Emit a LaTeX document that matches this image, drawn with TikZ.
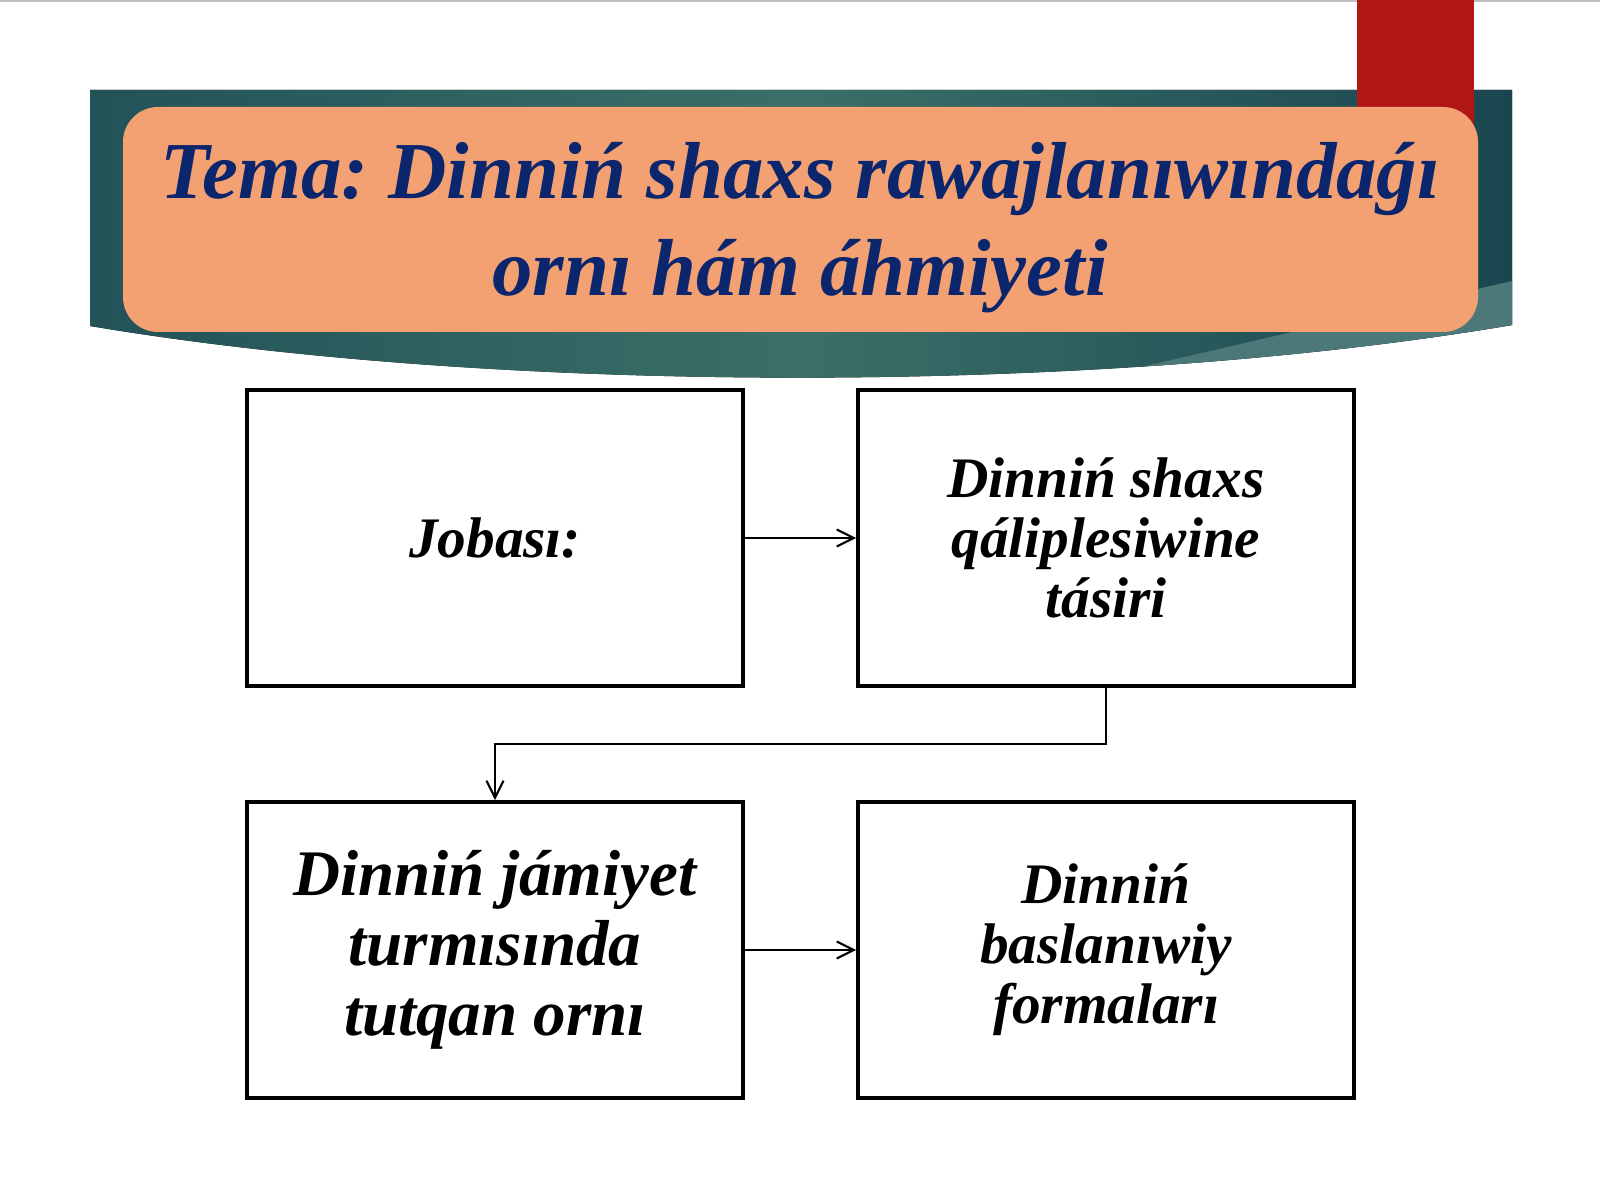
\documentclass[tikz,border=0pt]{standalone}
\usepackage{fontspec}
\setmainfont{Liberation Serif}
\usetikzlibrary{arrows.meta}
\frenchspacing

\definecolor{bannerleft}{RGB}{35,82,88}
\definecolor{bannermid}{RGB}{58,112,104}
\definecolor{bannerdark}{RGB}{27,70,80}
\definecolor{bannerfold}{RGB}{77,120,122}
\definecolor{ribbonred}{RGB}{176,22,20}
\definecolor{titlefill}{RGB}{243,161,114}
\definecolor{titleblue}{RGB}{12,38,110}

\tikzset{
  box/.style={draw, line width=1.1pt, minimum width=49.6mm, minimum height=29.6mm,
    inner sep=0pt, align=center, font=\fontsize{16.3}{17.1}\selectfont\bfseries\itshape},
  link/.style={-{Straight Barb[length=1.7mm,width=1.7mm]}, line width=0.6pt}
}

\begin{document}
\begin{tikzpicture}[x=0.1mm,y=-0.1mm]
\useasboundingbox (0,0) rectangle (1600,1200);
\draw[black!25, line width=0.7pt] (0,1) -- (1600,1);

% banner
\fill[left color=bannerleft, right color=bannerdark, middle color=bannermid]
  (90,90) -- (1512,90) -- (1512,325) .. controls (1100,395) and (500,395) .. (90,326) -- cycle;
\begin{scope}
  \clip (90,90) -- (1512,90) -- (1512,325) .. controls (1100,395) and (500,395) .. (90,326) -- cycle;
  \fill[bannerfold] (1512,281) -- (1120,372) -- (1120,420) -- (1560,420) -- (1560,281) -- cycle;
\end{scope}
\fill[ribbonred] (1357,0) rectangle (1474,150);
\fill[titlefill, rounded corners=3.5mm] (123,107) rectangle (1478,332);
\node[text=titleblue, align=center, font=\fontsize{23}{27.6}\selectfont\bfseries\itshape]
  (tema) at (800,228) {Tema: Dinniń shaxs rawajlanıwındaǵı\\ornı hám áhmiyeti};

% boxes
\node[box] (jobasi) at (495,538) {Jobası:};
\node[box] (shaxs) at (1106,538) {Dinniń shaxs\\qáliplesiwine\\tásiri};
\node[box, font=\fontsize{18.5}{19.9}\selectfont\bfseries\itshape]
  (jamiyet) at (495,950) {Dinniń jámiyet\\turmısında\\tutqan ornı};
\node[box] (formalari) at (1106,950) {Dinniń\\baslanıwiy\\formaları};

\draw[link] (jobasi) -- (shaxs);
\draw[link] (shaxs.south) -- ++(0,56) -| (jamiyet.north);
\draw[link] (jamiyet) -- (formalari);
\end{tikzpicture}
\end{document}
